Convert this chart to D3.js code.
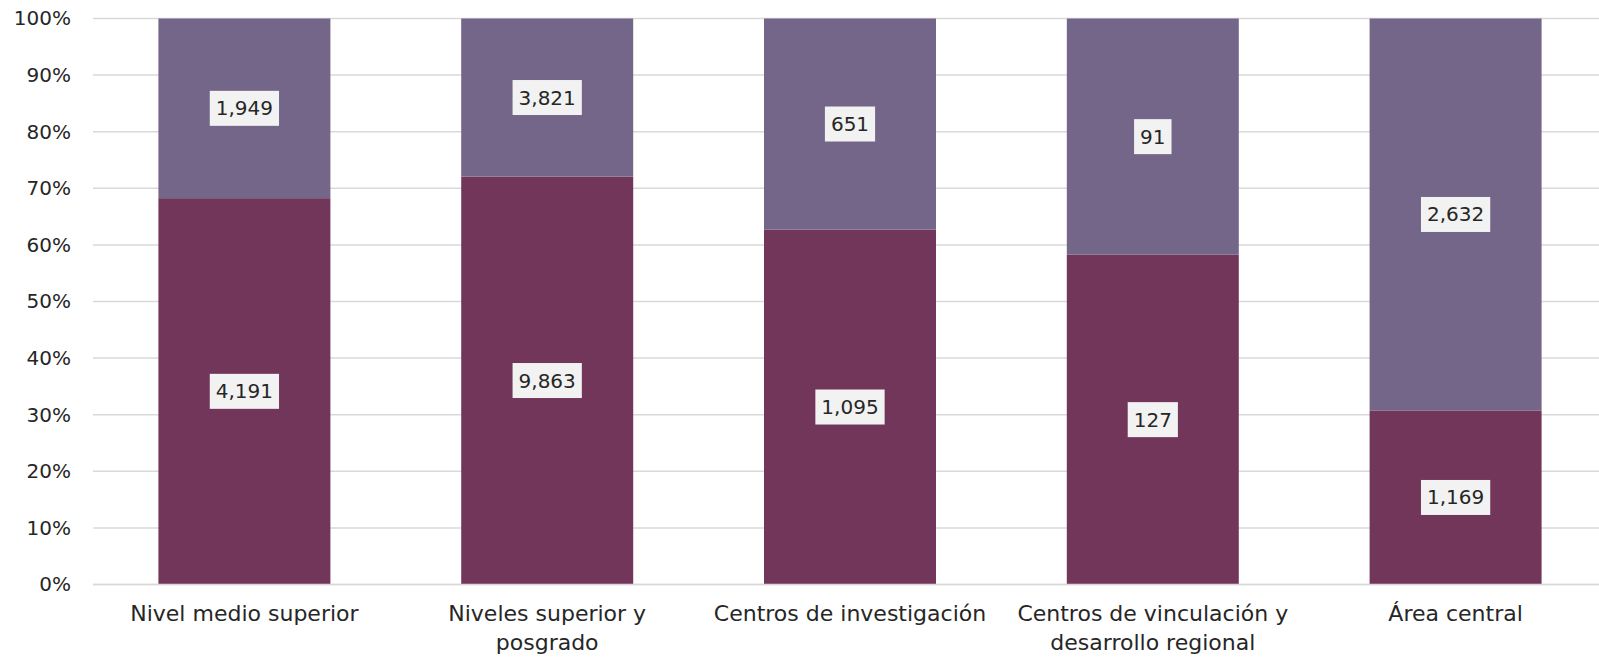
<!DOCTYPE html>
<html>
<head>
<meta charset="utf-8">
<script src="https://cdn.jsdelivr.net/npm/d3@7"></script>
<style>
  html, body { margin: 0; padding: 0; background: #ffffff; }
  svg { display: block; }
  text { font-family: "DejaVu Sans", "Noto Sans", sans-serif; fill: #262626; }
</style>
</head>
<body>
<svg id="chart" width="1599" height="657"></svg>
<script>
const categories = [
  ["Nivel medio superior"],
  ["Niveles superior y", "posgrado"],
  ["Centros de investigación"],
  ["Centros de vinculación y", "desarrollo regional"],
  ["Área central"]
];
const seriesBottom = [4191, 9863, 1095, 127, 1169];
const seriesTop = [1949, 3821, 651, 91, 2632];
const yTicks = [0, 0.1, 0.2, 0.3, 0.4, 0.5, 0.6, 0.7, 0.8, 0.9, 1.0];

const colorBottom = "#72365a";
const colorTop = "#746689";

const svg = d3.select("#chart");
const margin = { left: 93, top: 18.5, bottom: 584.5, right: 1607 };

const x = d3.scaleBand()
  .domain(d3.range(categories.length))
  .range([margin.left, margin.right])
  .paddingInner(0.432)
  .paddingOuter(0.216);

const y = d3.scaleLinear().domain([0, 1]).range([margin.bottom, margin.top]);

// gridlines
svg.append("g").selectAll("line")
  .data(yTicks)
  .join("line")
  .attr("x1", margin.left)
  .attr("x2", 1599)
  .attr("y1", d => y(d))
  .attr("y2", d => y(d))
  .attr("stroke", "#d9d9d9")
  .attr("stroke-width", 1.5);

// y axis labels
const yAxis = d3.axisLeft(y).tickValues(yTicks).tickFormat(d3.format(".0%")).tickSize(0).tickPadding(0);
const yg = svg.append("g").attr("transform", `translate(${71},0)`).call(yAxis);
yg.select(".domain").remove();
yg.selectAll("text").style("font-size", "20px").style("font-family", "DejaVu Sans, sans-serif").attr("fill", "#262626");

// data
const data = categories.map((c, i) => {
  const total = seriesBottom[i] + seriesTop[i];
  return { i, c, b: seriesBottom[i], t: seriesTop[i], pb: seriesBottom[i] / total };
});

const bars = svg.append("g");
bars.selectAll("rect.bottom")
  .data(data).join("rect")
  .attr("x", d => x(d.i))
  .attr("width", x.bandwidth())
  .attr("y", d => y(d.pb))
  .attr("height", d => y(0) - y(d.pb))
  .attr("fill", colorBottom);

bars.selectAll("rect.top")
  .data(data).join("rect")
  .attr("x", d => x(d.i))
  .attr("width", x.bandwidth())
  .attr("y", d => y(1))
  .attr("height", d => y(d.pb) - y(1))
  .attr("fill", colorTop);

// baseline
svg.append("line")
  .attr("x1", margin.left).attr("x2", 1599)
  .attr("y1", y(0)).attr("y2", y(0))
  .attr("stroke", "#d9d9d9").attr("stroke-width", 1.5);

// labels
const fmt = d3.format(",");
const labels = [];
data.forEach(d => {
  labels.push({ x: x(d.i) + x.bandwidth() / 2, y: y(d.pb / 2), v: d.b });
  labels.push({ x: x(d.i) + x.bandwidth() / 2, y: y((d.pb + 1) / 2), v: d.t });
});

const lg = svg.append("g");
labels.forEach(l => {
  const g = lg.append("g");
  const t = g.append("text")
    .attr("x", l.x).attr("y", l.y)
    .attr("text-anchor", "middle")
    .attr("dominant-baseline", "central")
    .style("font-size", "20px")
    .text(fmt(l.v));
  const bb = t.node().getBBox();
  g.insert("rect", "text")
    .attr("x", bb.x - 6).attr("y", l.y - 17.5)
    .attr("width", bb.width + 12).attr("height", 35)
    .attr("fill", "#f2f2f2");
});

// x labels
const xl = svg.append("g");
data.forEach(d => {
  const t = xl.append("text")
    .attr("x", x(d.i) + x.bandwidth() / 2)
    .attr("y", 621)
    .attr("text-anchor", "middle")
    .style("font-size", "22px");
  d.c.forEach((line, k) => {
    t.append("tspan").attr("x", x(d.i) + x.bandwidth() / 2).attr("dy", k === 0 ? 0 : 28.5).text(line);
  });
});
</script>
</body>
</html>
